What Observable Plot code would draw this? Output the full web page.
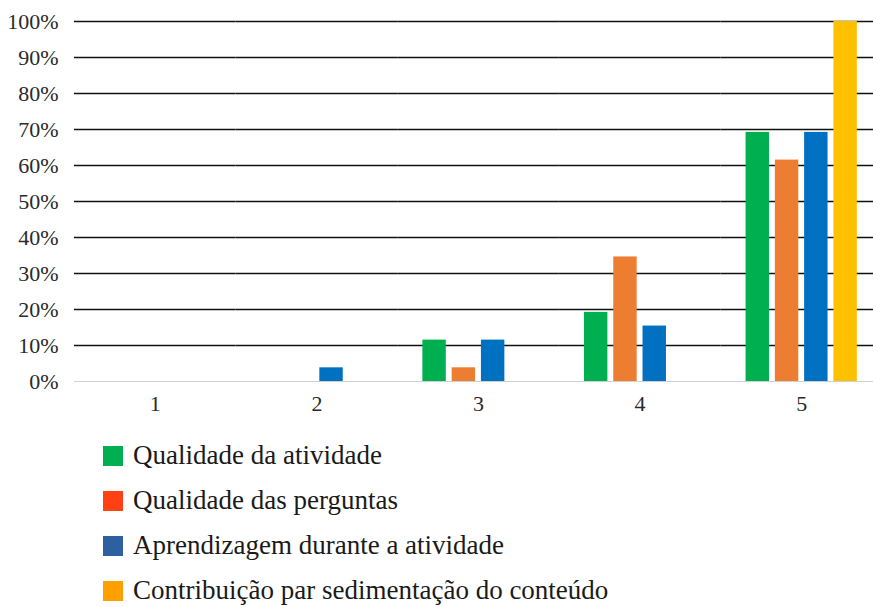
<!DOCTYPE html>
<html>
<head>
<meta charset="utf-8">
<style>
  html, body { margin: 0; padding: 0; background: #fff; overflow: hidden; font-family: 'Liberation Serif'; }
  #legend { margin-left: 103px; padding-top: 8px; font-family: 'Liberation Serif'; font-size: 27px; color: #1a1a1a; }
  .row { display: flex; align-items: center; height: 45px; }
  .row span { line-height: 1; }
  .sw { width: 20px; height: 20px; margin-right: 10px; flex: none; }
  #chart svg, #chart svg text { font-family: 'Liberation Serif' !important; }
</style>
<script src="https://cdn.jsdelivr.net/npm/d3@7"></script>
<script src="https://cdn.jsdelivr.net/npm/@observablehq/plot@0.6"></script>
</head>
<body>
<div id="chart"></div>
<div id="legend"></div>
<script>
const categories = ["1", "2", "3", "4", "5"];
const series = [
  "Qualidade da atividade",
  "Qualidade das perguntas",
  "Aprendizagem durante a atividade",
  "Contribuição par sedimentação do conteúdo"
];
const qualidadeAtividade = [0, 0, 11.5, 19.2, 69.2];
const qualidadePerguntas = [0, 0, 3.8, 34.6, 61.5];
const aprendizagem = [0, 3.8, 11.5, 15.4, 69.2];
const contribuicao = [0, 0, 0, 0, 100];
const yTicks = [0, 10, 20, 30, 40, 50, 60, 70, 80, 90, 100];
const barColors = ["#00B050", "#ED7D31", "#0070C0", "#FFC000"];
const legendColors = ["#00B050", "#FF4013", "#2E5FA0", "#FF9F00"];

const seriesValues = [qualidadeAtividade, qualidadePerguntas, aprendizagem, contribuicao];
const data = [];
categories.forEach((c, i) => {
  series.forEach((s, j) => data.push({cat: c, series: s, value: seriesValues[j][i]}));
});

const chart = Plot.plot({
  width: 873,
  height: 425,
  marginLeft: 74,
  marginRight: -9,
  marginTop: 21,
  marginBottom: 44,
  style: {fontFamily: "Liberation Serif", fontSize: "22px", color: "#2a2a2a", background: "#fff"},
  fx: {domain: categories, padding: 0, round: false, label: null, tickSize: 0, tickPadding: 14, axis: "bottom"},
  x: {domain: series, paddingInner: 0.2, paddingOuter: 0.86, round: false, axis: null},
  y: {domain: [0, 100], ticks: yTicks, tickFormat: d => d + "%", tickSize: 0, tickPadding: 16, label: null},
  color: {domain: series, range: barColors},
  marks: [
    Plot.ruleY(yTicks.filter(d => d > 0), {stroke: "#111", strokeWidth: 1.7}),
    Plot.ruleY([0], {stroke: "#d0d0d0", strokeWidth: 1}),
    Plot.barY(data, {fx: "cat", x: "series", y: "value", fill: "series"})
  ]
});
chart.setAttribute("font-family", "Liberation Serif");
document.getElementById("chart").appendChild(chart);

const legend = document.getElementById("legend");
series.forEach((s, i) => {
  const row = document.createElement("div");
  row.className = "row";
  const sw = document.createElement("span");
  sw.className = "sw";
  sw.style.background = legendColors[i];
  const t = document.createElement("span");
  t.textContent = s;
  row.appendChild(sw);
  row.appendChild(t);
  legend.appendChild(row);
});
</script>
</body>
</html>
